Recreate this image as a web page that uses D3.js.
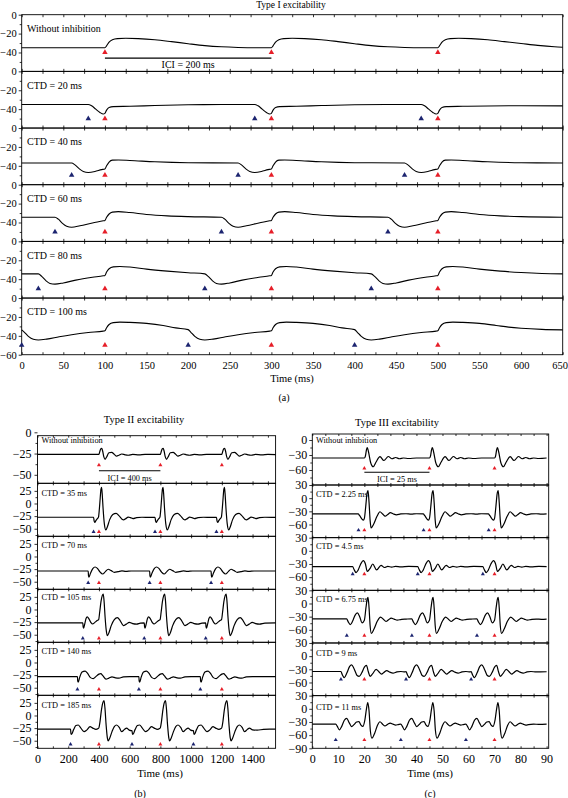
<!DOCTYPE html>
<html><head><meta charset="utf-8">
<script src="https://cdn.jsdelivr.net/npm/d3@7"></script>
<style>body{margin:0;background:#fff}svg{display:block}text{font-family:"Liberation Serif","Times New Roman",serif}</style>
</head><body><svg id="c" width="568" height="798"></svg>
<script>
// ---------------- DATA ----------------
// Panel (a) Type I
const aLabels = ["Without inhibition","CTD = 20 ms","CTD = 40 ms","CTD = 60 ms","CTD = 80 ms","CTD = 100 ms"];
const aCTD = [0,20,40,60,80,100];
const aRed = [100,300,500];
const aXTicks = [0,50,100,150,200,250,300,350,400,450,500,550,600,650];
const aYTicks = [0,-20,-40];
const aTrace0 = [[0,-35],[100,-35],[102,-33],[105,-29],[109,-26.5],[115,-25.3],[125,-25],[140,-25.3],[160,-26.5],[180,-28.5],[200,-30.7],[220,-32.7],[240,-34],[260,-34.7],[280,-35],[300,-35],[302,-33],[305,-29],[309,-26.5],[315,-25.3],[325,-25],[340,-25.3],[360,-26.5],[380,-28.5],[400,-30.7],[420,-32.7],[440,-34],[460,-34.7],[480,-35],[500,-35],[502,-33],[505,-29],[509,-26.5],[515,-25.3],[525,-25],[540,-25.3],[560,-26.5],[580,-28.5],[600,-30.5],[620,-32.5],[640,-34],[650,-34.5]];
const aTrace1 = [[0,-35],[80,-35],[84,-36.5],[89,-40],[94,-43.5],[98,-45.2],[100,-44.5],[102,-41],[105,-38.2],[110,-37.3],[130,-37],[160,-36.2],[200,-35.4],[240,-35.1],[280,-35],[284,-36.5],[289,-40],[294,-43.5],[298,-45.2],[300,-44.5],[302,-41],[305,-38.2],[310,-37.3],[330,-37],[360,-36.2],[400,-35.4],[440,-35.1],[480,-35],[484,-36.5],[489,-40],[494,-43.5],[498,-45.2],[500,-44.5],[502,-41],[505,-38.2],[510,-37.3],[530,-37],[560,-36.6],[600,-36.4],[650,-36.5]];
const aTrace2 = [[0,-37],[60,-37],[64,-39],[69,-43],[74,-46],[80,-47],[88,-46],[96,-44],[100,-43.3],[102,-40],[105,-36],[109,-34],[116,-33.8],[130,-34.3],[160,-35.7],[200,-36.7],[260,-37],[264,-39],[269,-43],[274,-46],[280,-47],[288,-46],[296,-44],[300,-43.3],[302,-40],[305,-36],[309,-34],[316,-33.8],[330,-34.3],[360,-35.7],[400,-36.7],[460,-37],[464,-39],[469,-43],[474,-46],[480,-47],[488,-46],[496,-44],[500,-43.3],[502,-40],[505,-36],[509,-34],[516,-33.8],[530,-34.3],[560,-35.7],[600,-36.7],[650,-37]];
const aTrace3 = [[0,-34.4],[40,-34.4],[44,-36.5],[49,-41],[54,-44],[60,-45],[70,-43.5],[85,-40.5],[98,-38.2],[100,-37.8],[102,-34.5],[105,-31],[109,-29],[116,-28.5],[130,-29.5],[150,-31.5],[175,-33],[200,-33.8],[240,-34.4],[244,-36.5],[249,-41],[254,-44],[260,-45],[270,-43.5],[285,-40.5],[298,-38.2],[300,-37.8],[302,-34.5],[305,-31],[309,-29],[316,-28.5],[330,-29.5],[350,-31.5],[375,-33],[400,-33.8],[440,-34.4],[444,-36.5],[449,-41],[454,-44],[460,-45],[470,-43.5],[485,-40.5],[498,-38.2],[500,-37.8],[502,-34.5],[505,-31],[509,-29],[516,-28.5],[530,-29.5],[550,-31.5],[575,-33],[600,-33.8],[650,-34.4]];
const aTrace4 = [[0,-34.4],[20,-34.4],[24,-37],[29,-41.5],[34,-44.5],[40,-45.3],[50,-44],[65,-41],[85,-38],[98,-36.4],[100,-36],[102,-32.5],[105,-29],[110,-27],[118,-26.6],[130,-27.2],[150,-29.4],[175,-31.5],[200,-33.2],[220,-34.4],[224,-37],[229,-41.5],[234,-44.5],[240,-45.3],[250,-44],[265,-41],[285,-38],[298,-36.4],[300,-36],[302,-32.5],[305,-29],[310,-27],[318,-26.6],[330,-27.2],[350,-29.4],[375,-31.5],[400,-33.2],[420,-34.4],[424,-37],[429,-41.5],[434,-44.5],[440,-45.3],[450,-44],[465,-41],[485,-38],[498,-36.4],[500,-36],[502,-32.5],[505,-29],[510,-27],[518,-26.6],[530,-27.2],[550,-29.4],[575,-31.5],[600,-33],[625,-34],[650,-34.4]];
const aTrace5 = [[0,-33.7],[3,-36],[8,-40.5],[14,-43.6],[20,-44.4],[30,-43.5],[45,-41],[60,-38.8],[80,-36.5],[98,-35],[100,-34.7],[102,-31.5],[105,-28],[110,-26],[118,-25.5],[130,-25.8],[150,-26.8],[170,-29],[185,-31.6],[200,-33.4],[203,-36],[208,-40.5],[214,-43.6],[220,-44.4],[230,-43.5],[245,-41],[260,-38.8],[280,-36.5],[298,-35],[300,-34.7],[302,-31.5],[305,-28],[310,-26],[318,-25.5],[330,-25.8],[350,-26.8],[370,-29],[385,-31.6],[400,-33.4],[403,-36],[408,-40.5],[414,-43.6],[420,-44.4],[430,-43.5],[445,-41],[460,-38.8],[480,-36.5],[498,-35],[500,-34.7],[502,-31.5],[505,-28],[510,-26],[518,-25.5],[530,-25.8],[550,-26.8],[570,-29],[585,-30.8],[600,-32],[625,-33.2],[650,-33.7]];

// Panel (b) Type II
const bLabels = ["Without inhibition","CTD = 35 ms","CTD = 70 ms","CTD = 105 ms","CTD = 140 ms","CTD = 185 ms"];
const bCTD = [0,35,70,105,140,185];
const bRed = [400,800,1200];
const bXTicks = [0,200,400,600,800,1000,1200,1400];
const bYTicksFirst = [0,-25,-50];
const bYTicks = [25,0,-25,-50];
const bTrace0 = [[0,-26],[400,-26],[405,-23],[412,-19.5],[418,-18.8],[424,-22],[432,-29],[440,-31.8],[450,-29],[465,-24],[483,-23.5],[500,-26],[515,-28],[530,-27],[548,-25.5],[570,-26.5],[590,-27],[620,-26],[660,-26.5],[700,-26],[800,-26],[805,-23],[812,-19.5],[818,-18.8],[824,-22],[832,-29],[840,-31.8],[850,-29],[865,-24],[883,-23.5],[900,-26],[915,-28],[930,-27],[948,-25.5],[970,-26.5],[990,-27],[1020,-26],[1060,-26.5],[1100,-26],[1200,-26],[1205,-23],[1212,-19.5],[1218,-18.8],[1224,-22],[1232,-29],[1240,-31.8],[1250,-29],[1265,-24],[1283,-23.5],[1300,-26],[1315,-28],[1330,-27],[1348,-25.5],[1370,-26.5],[1390,-27],[1420,-26],[1460,-26.5],[1500,-26],[1550,-26.3]];
const bTrace1 = [[0,-27.3],[365,-27.3],[369,-35],[373,-37.5],[380,-34],[390,-30],[397,-27],[403,-10],[408,10],[413,28],[417,32],[421,20],[427,-10],[435,-40],[445,-52.5],[455,-46],[470,-32],[490,-22],[512,-19.4],[530,-24],[550,-31],[560,-32.5],[575,-30],[590,-27],[605,-28],[622,-30],[645,-28],[680,-27.3],[730,-27.5],[765,-27.3],[769,-35],[773,-37.5],[780,-34],[790,-30],[797,-27],[803,-10],[808,10],[813,28],[817,32],[821,20],[827,-10],[835,-40],[845,-52.5],[855,-46],[870,-32],[890,-22],[912,-19.4],[930,-24],[950,-31],[960,-32.5],[975,-30],[990,-27],[1005,-28],[1022,-30],[1045,-28],[1080,-27.3],[1130,-27.5],[1165,-27.3],[1169,-35],[1173,-37.5],[1180,-34],[1190,-30],[1197,-27],[1203,-10],[1208,10],[1213,28],[1217,32],[1221,20],[1227,-10],[1235,-40],[1245,-52.5],[1255,-46],[1270,-32],[1290,-22],[1312,-19.4],[1330,-24],[1350,-31],[1360,-32.5],[1375,-30],[1390,-27],[1405,-28],[1422,-30],[1445,-28],[1480,-27.3],[1550,-27.5]];
const bTrace2 = [[0,-28.7],[330,-28.7],[332,-38],[335,-41],[345,-33],[360,-24],[375,-20.8],[390,-23.5],[408,-31],[424,-34.7],[442,-30],[460,-25.3],[480,-28],[500,-31.5],[525,-30],[550,-28.5],[575,-29.5],[610,-28.7],[660,-28.7],[730,-28.7],[732,-38],[735,-41],[745,-33],[760,-24],[775,-20.8],[790,-23.5],[808,-31],[824,-34.7],[842,-30],[860,-25.3],[880,-28],[900,-31.5],[925,-30],[950,-28.5],[975,-29.5],[1010,-28.7],[1060,-28.7],[1130,-28.7],[1132,-38],[1135,-41],[1145,-33],[1160,-24],[1175,-20.8],[1190,-23.5],[1208,-31],[1224,-34.7],[1242,-30],[1260,-25.3],[1280,-28],[1300,-31.5],[1325,-30],[1350,-28.5],[1375,-29.5],[1410,-28.7],[1550,-28.7]];
const bTrace3 = [[0,-26.5],[295,-26.5],[297,-34],[300,-37.2],[308,-28],[316,-18],[324,-14.5],[334,-18],[348,-26],[359,-28.7],[372,-26],[388,-22],[398,-20],[405,-5],[413,15],[422,28],[428,30.7],[433,18],[440,-15],[447,-40],[455,-51.9],[465,-46],[480,-32],[500,-20],[520,-16.2],[538,-22],[559,-32],[578,-29],[598,-25.5],[620,-28],[645,-29],[670,-27],[695,-26.5],[697,-34],[700,-37.2],[708,-28],[716,-18],[724,-14.5],[734,-18],[748,-26],[759,-28.7],[772,-26],[788,-22],[798,-20],[805,-5],[813,15],[822,28],[828,30.7],[833,18],[840,-15],[847,-40],[855,-51.9],[865,-46],[880,-32],[900,-20],[920,-16.2],[938,-22],[959,-32],[978,-29],[998,-25.5],[1020,-28],[1045,-29],[1070,-27],[1095,-26.5],[1097,-34],[1100,-37.2],[1108,-28],[1116,-18],[1124,-14.5],[1134,-18],[1148,-26],[1159,-28.7],[1172,-26],[1188,-22],[1198,-20],[1205,-5],[1213,15],[1222,28],[1228,30.7],[1233,18],[1240,-15],[1247,-40],[1255,-51.9],[1265,-46],[1280,-32],[1300,-20],[1320,-16.2],[1338,-22],[1359,-32],[1378,-29],[1398,-25.5],[1420,-28],[1445,-29],[1480,-27],[1550,-26.5]];
const bTrace4 = [[0,-28],[260,-28],[262,-37],[265,-39],[275,-29],[290,-19],[310,-17],[325,-21],[345,-30],[363,-32],[380,-28],[400,-23],[412,-22],[425,-26],[446,-33],[465,-31],[485,-28.5],[508,-30.5],[530,-31],[560,-28.5],[600,-28],[660,-28],[662,-37],[665,-39],[675,-29],[690,-19],[710,-17],[725,-21],[745,-30],[763,-32],[780,-28],[800,-23],[812,-22],[825,-26],[846,-33],[865,-31],[885,-28.5],[908,-30.5],[930,-31],[960,-28.5],[1000,-28],[1060,-28],[1062,-37],[1065,-39],[1075,-29],[1090,-19],[1110,-17],[1125,-21],[1145,-30],[1163,-32],[1180,-28],[1200,-23],[1212,-22],[1225,-26],[1246,-33],[1265,-31],[1285,-28.5],[1308,-30.5],[1330,-31],[1360,-28.5],[1400,-28],[1550,-28]];
const bTrace5 = [[0,-27],[215,-27],[218,-36],[221,-37.5],[235,-28],[250,-20],[265,-18.8],[280,-24],[303,-32],[320,-29],[342,-22.2],[360,-25],[380,-27.5],[395,-26],[400,-24],[407,-12],[415,8],[425,25],[433,29.3],[439,15],[447,-20],[455,-45],[460,-50.5],[470,-45],[485,-32],[500,-22],[515,-18.8],[533,-24],[548,-32],[565,-28],[580,-25],[597,-29],[611,-30],[615,-30],[618,-36],[621,-37.5],[635,-28],[650,-20],[665,-18.8],[680,-24],[703,-32],[720,-29],[742,-22.2],[760,-25],[780,-27.5],[795,-26],[800,-24],[807,-12],[815,8],[825,25],[833,29.3],[839,15],[847,-20],[855,-45],[860,-50.5],[870,-45],[885,-32],[900,-22],[915,-18.8],[933,-24],[948,-32],[965,-28],[980,-25],[997,-29],[1011,-30],[1015,-30],[1018,-36],[1021,-37.5],[1035,-28],[1050,-20],[1065,-18.8],[1080,-24],[1103,-32],[1120,-29],[1142,-22.2],[1160,-25],[1180,-27.5],[1195,-26],[1200,-24],[1207,-12],[1215,8],[1225,25],[1233,29.3],[1239,15],[1247,-20],[1255,-45],[1260,-50.5],[1270,-45],[1285,-32],[1300,-22],[1315,-18.8],[1333,-24],[1348,-32],[1365,-28],[1380,-25],[1400,-28.5],[1430,-29],[1470,-27.5],[1510,-27],[1550,-27]];

// Panel (c) Type III
const cLabels = ["Without inhibition","CTD = 2.25 ms","CTD = 4.5 ms","CTD = 6.75 ms","CTD = 9 ms","CTD = 11 ms"];
const cCTD = [0,2.25,4.5,6.75,9,11];
const cRed = [20,45,70];
const cXTicks = [0,10,20,30,40,50,60,70,80,90];
const cYTicksFirst = [0,-30,-60];
const cYTicks = [30,0,-30,-60];
const cTrace0 = [[0,-36],[20,-36],[20.4,-32],[20.8,-20],[21.1,-15],[21.6,-24],[22.4,-45],[23.4,-53.5],[24.5,-44],[26,-33.3],[27.5,-41],[29.2,-33],[30.6,-37.5],[32,-35],[33.5,-37.5],[35,-36],[37,-37],[40,-36],[45,-36],[45.4,-32],[45.8,-20],[46.1,-15],[46.6,-24],[47.4,-45],[48.4,-53.5],[49.5,-44],[51,-33.3],[52.5,-41],[54.2,-33],[55.6,-37.5],[57,-35],[58.5,-37.5],[60,-36],[62,-37],[65,-36],[70,-36],[70.4,-32],[70.8,-20],[71.1,-15],[71.6,-24],[72.4,-45],[73.4,-53.5],[74.5,-44],[76,-33.3],[77.5,-41],[79.2,-33],[80.6,-37.5],[82,-35],[83.5,-37.5],[85,-36],[87,-37],[90,-36]];
const cTrace1 = [[0,-36],[17.6,-36],[18.2,-40],[19,-47],[19.6,-50],[20,-46],[20.5,-20],[21,10],[21.4,17],[21.8,-10],[22.2,-50],[22.6,-68],[23.5,-60],[24.8,-42],[26,-31],[27,-36],[28,-41],[29,-37],[30,-33],[31,-35.5],[32.3,-38],[34,-36],[36,-35.5],[38,-36.5],[40,-35.5],[42.6,-36],[43.2,-40],[44,-47],[44.6,-50],[45,-46],[45.5,-20],[46,10],[46.4,17],[46.8,-10],[47.2,-50],[47.6,-68],[48.5,-60],[49.8,-42],[51,-31],[52,-36],[53,-41],[54,-37],[55,-33],[56,-35.5],[57.3,-38],[59,-36],[61,-35.5],[63,-36.5],[65,-35.5],[67.6,-36],[68.2,-40],[69,-47],[69.6,-50],[70,-46],[70.5,-20],[71,10],[71.4,17],[71.8,-10],[72.2,-50],[72.6,-68],[73.5,-60],[74.8,-42],[76,-31],[77,-36],[78,-41],[79,-37],[80,-33],[81,-35.5],[82.3,-38],[84,-36],[86,-35.5],[88,-36.5],[90,-36]];
const cTrace2 = [[0,-36],[15.5,-36],[16,-42],[16.8,-49.5],[17.5,-45],[18.6,-30],[19.6,-22.4],[20.4,-30],[21.1,-47],[22.2,-40],[23.2,-30],[24.7,-43.5],[26.4,-33],[27.7,-38],[29,-35.5],[30.5,-37],[32,-35.5],[34,-36.5],[37,-35.5],[40.5,-36],[41,-42],[41.8,-49.5],[42.5,-45],[43.6,-30],[44.6,-22.4],[45.4,-30],[46.1,-47],[47.2,-40],[48.2,-30],[49.7,-43.5],[51.4,-33],[52.7,-38],[54,-35.5],[55.5,-37],[57,-35.5],[59,-36.5],[62,-35.5],[65.5,-36],[66,-42],[66.8,-49.5],[67.5,-45],[68.6,-30],[69.6,-22.4],[70.4,-30],[71.1,-47],[72.2,-40],[73.2,-30],[74.7,-43.5],[76.4,-33],[77.7,-38],[79,-35.5],[80.5,-37],[82,-35.5],[84,-36.5],[87,-35.5],[90,-36]];
const cTrace3 = [[0,-35],[13.2,-35],[13.8,-42],[14.6,-48],[15.5,-40],[16.4,-27],[17.3,-21.4],[18.2,-30],[19.1,-44],[20,-38],[20.6,-10],[21.1,10],[21.4,14],[21.8,-10],[22.2,-50],[22.7,-68],[23.7,-58],[25,-40],[26.2,-31],[27.3,-36],[28.3,-41],[29.3,-37],[30.3,-33.5],[31.4,-35.5],[32.6,-38],[34.3,-36],[36,-35.5],[38.2,-35],[38.8,-42],[39.6,-48],[40.5,-40],[41.4,-27],[42.3,-21.4],[43.2,-30],[44.1,-44],[45,-38],[45.6,-10],[46.1,10],[46.4,14],[46.8,-10],[47.2,-50],[47.7,-68],[48.7,-58],[50,-40],[51.2,-31],[52.3,-36],[53.3,-41],[54.3,-37],[55.3,-33.5],[56.4,-35.5],[57.6,-38],[59.3,-36],[61,-35.5],[63.2,-35],[63.8,-42],[64.6,-48],[65.5,-40],[66.4,-27],[67.3,-21.4],[68.2,-30],[69.1,-44],[70,-38],[70.6,-10],[71.1,10],[71.4,14],[71.8,-10],[72.2,-50],[72.7,-68],[73.7,-58],[75,-40],[76.2,-31],[77.3,-36],[78.3,-41],[79.3,-37],[80.3,-33.5],[81.4,-35.5],[82.6,-38],[84.3,-36],[86,-35.5],[88,-36],[90,-35.5]];
const cTrace4 = [[0,-35],[11,-35],[11.5,-42],[12.3,-49],[13.3,-38],[14.3,-24],[15.1,-20],[16,-28],[17.2,-44],[18,-46],[19,-38],[20,-25],[20.8,-21],[21.5,-35],[22.2,-46],[23.2,-40],[24.5,-30],[25.5,-35],[26.6,-41],[27.5,-37],[28.6,-33],[29.8,-36.5],[31,-38.5],[32.5,-36],[34,-35],[35.6,-36],[36,-35],[36.5,-42],[37.3,-49],[38.3,-38],[39.3,-24],[40.1,-20],[41,-28],[42.2,-44],[43,-46],[44,-38],[45,-25],[45.8,-21],[46.5,-35],[47.2,-46],[48.2,-40],[49.5,-30],[50.5,-35],[51.6,-41],[52.5,-37],[53.6,-33],[54.8,-36.5],[56,-38.5],[57.5,-36],[59,-35],[60.6,-36],[61,-35],[61.5,-42],[62.3,-49],[63.3,-38],[64.3,-24],[65.1,-20],[66,-28],[67.2,-44],[68,-46],[69,-38],[70,-25],[70.8,-21],[71.5,-35],[72.2,-46],[73.2,-40],[74.5,-30],[75.5,-35],[76.6,-41],[77.5,-37],[78.6,-33],[79.8,-36.5],[81,-38.5],[82.5,-36],[84,-35],[86,-36],[90,-35.5]];
const cTrace5 = [[0,-35],[9,-35],[9.6,-40],[10.4,-48],[11.3,-40],[12.3,-26],[13.2,-21.6],[14.2,-32],[15.1,-40.6],[16,-36],[17,-30],[17.9,-29],[18.7,-37],[19.4,-40],[20.2,-25],[20.8,0],[21.3,14],[21.8,-5],[22.3,-50],[22.9,-67],[24,-55],[25,-38],[26,-29.5],[27,-35],[27.9,-39],[29,-35],[29.9,-32.5],[31,-35],[32,-37],[33,-36],[34,-35],[34.6,-40],[35.4,-48],[36.3,-40],[37.3,-26],[38.2,-21.6],[39.2,-32],[40.1,-40.6],[41,-36],[42,-30],[42.9,-29],[43.7,-37],[44.4,-40],[45.2,-25],[45.8,0],[46.3,14],[46.8,-5],[47.3,-50],[47.9,-67],[49,-55],[50,-38],[51,-29.5],[52,-35],[52.9,-39],[54,-35],[54.9,-32.5],[56,-35],[57,-37],[58,-36],[59,-35],[59.6,-40],[60.4,-48],[61.3,-40],[62.3,-26],[63.2,-21.6],[64.2,-32],[65.1,-40.6],[66,-36],[67,-30],[67.9,-29],[68.7,-37],[69.4,-40],[70.2,-25],[70.8,0],[71.3,14],[71.8,-5],[72.3,-50],[72.9,-67],[74,-55],[75,-38],[76,-29.5],[77,-35],[77.9,-39],[79,-35],[79.9,-32.5],[81,-35],[82,-37],[83,-36],[85,-35],[87,-35.5],[90,-35]];

// ---------------- DRAWING ----------------
const RED = "#e61e28", BLUE = "#1c2470";
const FONT = "Liberation Serif";
const svg = d3.select("#c");

function drawPanel(P) {
  const g = svg.append("g");
  const x = d3.scaleLinear().domain(P.xDomain).range(P.xRange);
  const [x0, x1] = P.xRange;
  P.rows.forEach((R, i) => {
    const y = d3.scaleLinear().domain(R.domain).range([R.bottom, R.top]);
    const rg = g.append("g");
    rg.append("g").attr("transform", `translate(0,${R.top})`)
      .call(d3.axisBottom(x).tickValues(P.xMinor).tickSize(P.innerTick).tickFormat(""))
      .call(a => a.select(".domain").remove()).selectAll("line").attr("stroke-width", 0.8);
    rg.append("g").attr("transform", `translate(0,${R.bottom})`)
      .call(d3.axisTop(x).tickValues(P.xMinor).tickSize(P.innerTick).tickFormat(""))
      .call(a => a.select(".domain").remove()).selectAll("line").attr("stroke-width", 0.8);
    rg.append("g").attr("transform", `translate(${x0},0)`)
      .call(d3.axisLeft(y).tickValues(R.minor).tickSize(2).tickFormat(""))
      .call(a => a.select(".domain").remove()).selectAll("line").attr("stroke-width", 0.8);
    rg.append("g").attr("transform", `translate(${x0},0)`)
      .call(d3.axisLeft(y).tickValues(R.ticks).tickSize(3).tickPadding(P.yPad).tickFormat(d3.format("d")))
      .call(a => a.select(".domain").remove())
      .attr("font-family", FONT).attr("font-size", P.tickFont)
      .selectAll("line").attr("stroke-width", 0.8);
    rg.append("rect").attr("x", x0).attr("y", R.top).attr("width", x1 - x0).attr("height", R.bottom - R.top)
      .attr("fill", "none").attr("stroke", "#000").attr("stroke-width", 0.9);
    const line = d3.line().x(d => x(d[0])).y(d => y(d[1])).curve(d3.curveMonotoneX);
    rg.append("path").datum(P.traces[i]).attr("d", line)
      .attr("fill", "none").attr("stroke", "#000").attr("stroke-width", P.lineW).attr("stroke-linejoin", "round");
    const sym = d3.symbol().type(d3.symbolTriangle).size(P.triSize);
    const marks = P.reds.map(t => ({t, c: RED}));
    if (P.ctd[i]) P.reds.forEach(t => marks.push({t: t - P.ctd[i], c: BLUE}));
    rg.selectAll("path.tri").data(marks).enter().append("path").attr("class", "tri")
      .attr("d", sym).attr("fill", d => d.c)
      .attr("transform", d => `translate(${x(d.t)},${y(R.tri)})`);
    rg.append("text").attr("x", P.labelX).attr("y", R.top + R.labelDy)
      .attr("dominant-baseline", "central").attr("font-family", FONT).attr("font-size", P.labelFont)
      .text(P.labels[i]);
    if (i === 0) {
      rg.append("line").attr("x1", x(P.reds[0])).attr("x2", x(P.reds[1]))
        .attr("y1", y(P.ici.lineY)).attr("y2", y(P.ici.lineY)).attr("stroke", "#000").attr("stroke-width", 1.1);
      rg.append("text").attr("x", x((P.reds[0] + P.reds[1]) / 2)).attr("y", y(P.ici.textY))
        .attr("text-anchor", "middle").attr("dominant-baseline", "central")
        .attr("font-family", FONT).attr("font-size", P.ici.font).text(P.ici.text);
    }
    if (i === P.rows.length - 1) {
      const ax = rg.append("g").attr("transform", `translate(0,${R.bottom})`)
        .call(d3.axisBottom(x).tickValues(P.xTicks).tickSize(0).tickPadding(P.xPad).tickFormat(d3.format("d")))
        .call(a => a.select(".domain").remove())
        .attr("font-family", FONT).attr("font-size", P.tickFont);
      // keep the last label inside the page
      ax.selectAll(".tick text").filter(d => x(d) + 9 > 568).attr("dx", -(x(P.xTicks[P.xTicks.length - 1]) + 8.5 - 568));
    }
  });
  svg.append("text").attr("x", P.title.x).attr("y", P.title.y).attr("text-anchor", "middle")
    .attr("dominant-baseline", "central").attr("font-family", FONT).attr("font-size", P.title.size).text(P.title.text);
  svg.append("text").attr("x", P.xTitle.x).attr("y", P.xTitle.y).attr("text-anchor", "middle")
    .attr("dominant-baseline", "central").attr("font-family", FONT).attr("font-size", P.xTitle.size).text("Time (ms)");
  svg.append("text").attr("x", P.letter.x).attr("y", P.letter.y).attr("text-anchor", "middle")
    .attr("dominant-baseline", "central").attr("font-family", FONT).attr("font-size", 10).text(P.letter.text);
}

function rowsUniform(top, h, n, domain, ticks, lastTicks, minor, tris, labelDys) {
  return d3.range(n).map(k => ({
    top: top + k * h, bottom: top + (k + 1) * h, domain,
    ticks: k === n - 1 ? lastTicks : ticks, minor, tri: tris[k], labelDy: labelDys[k]
  }));
}

// Panel (a)
drawPanel({
  xDomain: [0, 650], xRange: [21.7, 562.7], xTicks: aXTicks, xMinor: d3.range(0, 651, 25),
  rows: rowsUniform(14.7, 56.67, 6, [-60, 0], aYTicks, aYTicks.concat([-60]), [-10, -30, -50],
    [-40, -50, -50, -50, -50, -50], [13.5, 13.8, 13.8, 13.8, 13.8, 13.8]),
  traces: [aTrace0, aTrace1, aTrace2, aTrace3, aTrace4, aTrace5],
  labels: aLabels, ctd: aCTD, reds: aRed,
  innerTick: 2.5, yPad: 2, tickFont: 10.5, xPad: 7, lineW: 1.1, triSize: 13, labelX: 27, labelFont: 10,
  ici: {lineY: -46, textY: -52.3, font: 10, text: "ICI = 200 ms"},
  title: {x: 291, y: 5, size: 9.5, text: "Type I excitability"},
  xTitle: {x: 292, y: 378.5, size: 10.5},
  letter: {x: 284, y: 397, text: "(a)"}
});

// Panel (b)
const bRows = [{top: 435.7, bottom: 483.3, domain: [-60, -4], ticks: bYTicksFirst, minor: [-12.5, -37.5], tri: -38.5, labelDy: 4.8}]
  .concat(rowsUniform(483.3, 53, 5, [-65, 40], bYTicks, bYTicks, [12.5, -12.5, -37.5, -62.5],
    [-56, -52, -57, -53, -57], [10, 9, 8.5, 8.8, 10.5]));
drawPanel({
  xDomain: [0, 1550], xRange: [37.5, 275.6], xTicks: bXTicks, xMinor: d3.range(0, 1551, 100),
  rows: bRows,
  traces: [bTrace0, bTrace1, bTrace2, bTrace3, bTrace4, bTrace5],
  labels: bLabels, ctd: bCTD, reds: bRed,
  innerTick: 2, yPad: 3, tickFont: 12, xPad: 6, lineW: 1.2, triSize: 7, labelX: 41.5, labelFont: 8.3,
  ici: {lineY: -45.2, textY: -54.2, font: 8.3, text: "ICI = 400 ms"},
  title: {x: 144, y: 419.5, size: 10.5, text: "Type II excitability"},
  xTitle: {x: 160, y: 773, size: 11},
  letter: {x: 140, y: 793, text: "(b)"}
});

// Panel (c)
const cRows = [{top: 434, bottom: 485, domain: [-90, 12], ticks: cYTicksFirst, minor: [-15, -45, -75], tri: -56.6, labelDy: 6}]
  .concat(rowsUniform(485, 52.66, 5, [-90, 30], cYTicks, cYTicks.concat([-90]), [15, -15, -45, -75],
    [-73, -53, -73, -53, -71], [9, 9, 8.7, 10.7, 12]));
drawPanel({
  xDomain: [0, 90.8], xRange: [312.3, 548.7], xTicks: cXTicks, xMinor: d3.range(0, 91, 5),
  rows: cRows,
  traces: [cTrace0, cTrace1, cTrace2, cTrace3, cTrace4, cTrace5],
  labels: cLabels, ctd: cCTD, reds: cRed,
  innerTick: 2, yPad: 2, tickFont: 12, xPad: 6.5, lineW: 1.2, triSize: 7, labelX: 316, labelFont: 8.3,
  ici: {lineY: -64.6, textY: -78.6, font: 8.3, text: "ICI = 25 ms"},
  title: {x: 397, y: 422.5, size: 10.5, text: "Type III excitability"},
  xTitle: {x: 430, y: 773, size: 11},
  letter: {x: 430, y: 793, text: "(c)"}
});
</script></body></html>
